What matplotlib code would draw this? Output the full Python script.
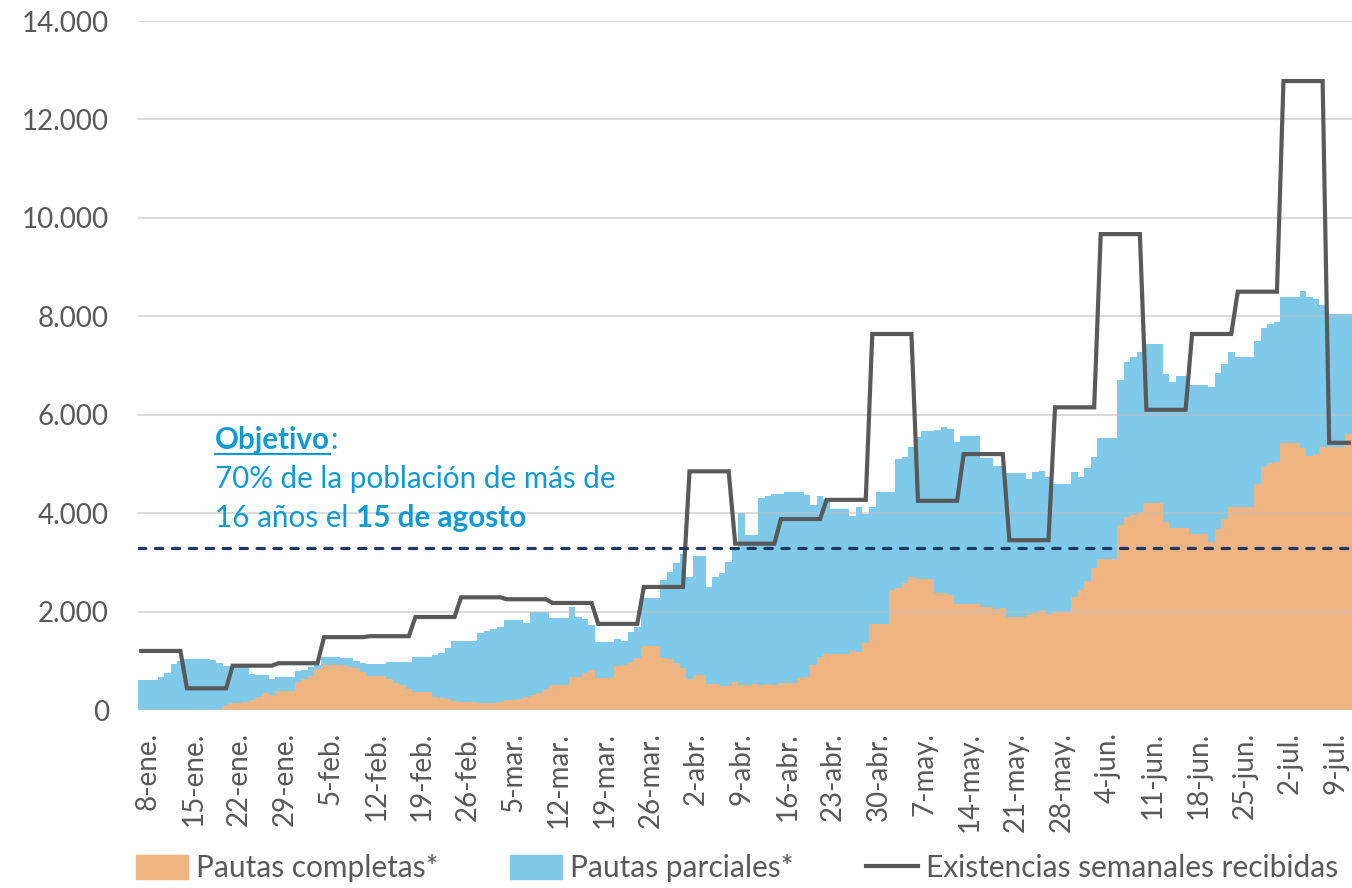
import numpy as np
import matplotlib
matplotlib.use("Agg")
import matplotlib.pyplot as plt
from matplotlib.lines import Line2D
from matplotlib.patches import Patch

plt.rcParams['font.family'] = ['Lato', 'DejaVu Sans']

# daily values, 7-ene .. 11-jul (one row per week)
completas = [
    0, 0, 0, 0, 0, 0, 0,
    0, 0, 0, 0, 0, 20, 108,
    150, 150, 165, 203, 257, 338, 305,
    393, 393, 393, 576, 623, 690, 826,
    915, 915, 915, 915, 880, 846, 779,
    690, 690, 690, 623, 555, 501, 433,
    372, 372, 372, 271, 249, 217, 176,
    163, 163, 163, 150, 136, 136, 169,
    203, 203, 217, 271, 305, 352, 430,
    508, 508, 508, 677, 664, 758, 813,
    644, 644, 644, 894, 915, 982, 1063,
    1300, 1300, 1300, 1050, 1030, 948, 847,
    623, 705, 705, 528, 535, 488, 488,
    576, 501, 501, 521, 508, 528, 508,
    542, 542, 542, 643, 664, 908, 1084,
    1131, 1131, 1131, 1131, 1199, 1185, 1368,
    1748, 1748, 1748, 2438, 2486, 2587, 2696,
    2669, 2669, 2669, 2371, 2371, 2337, 2154,
    2154, 2154, 2154, 2100, 2100, 2052, 2070,
    1884, 1884, 1884, 1938, 1965, 2032, 1950,
    1990, 1990, 1990, 2303, 2438, 2620, 2878,
    3062, 3062, 3062, 3760, 3915, 3956, 4030,
    4200, 4200, 4200, 3827, 3692, 3692, 3692,
    3570, 3570, 3570, 3421, 3672, 3875, 4131,
    4131, 4131, 4131, 4592, 4945, 5026, 5033,
    5419, 5419, 5419, 5331, 5162, 5196, 5352,
    5352, 5352, 5352, 5602,
]

# top of the stacked area (completas + parciales)
total = [
    600, 600, 600, 680, 745, 935, 1000,
    1040, 1040, 1040, 1040, 1020, 950, 900,
    900, 900, 900, 730, 705, 705, 623,
    665, 665, 665, 786, 812, 867, 915,
    1083, 1083, 1083, 1050, 1050, 1000, 962,
    928, 928, 928, 968, 968, 968, 968,
    1083, 1083, 1083, 1124, 1165, 1260, 1409,
    1409, 1409, 1409, 1571, 1600, 1646, 1680,
    1829, 1829, 1829, 1762, 1985, 1985, 2000,
    1863, 1863, 1863, 2087, 1884, 1843, 1727,
    1375, 1375, 1375, 1436, 1409, 1592, 1694,
    2270, 2270, 2270, 2640, 2810, 2980, 3170,
    2710, 3130, 3130, 2493, 2710, 2790, 3000,
    3300, 4000, 3556, 3556, 4314, 4355, 4389,
    4380, 4423, 4423, 4423, 4370, 4159, 4349,
    4288, 4078, 4078, 4078, 3950, 4119, 3976,
    4119, 4423, 4423, 4423, 5094, 5135, 5352,
    5541, 5663, 5663, 5690, 5757, 5710, 5453,
    5568, 5568, 5568, 5127, 5120, 4965, 4960,
    4810, 4810, 4810, 4688, 4830, 4863, 4729,
    4592, 4592, 4592, 4836, 4741, 4911, 5135,
    5521, 5521, 5521, 6706, 7078, 7167, 7275,
    7437, 7437, 7437, 6821, 6672, 6787, 6787,
    6597, 6597, 6597, 6570, 6842, 7031, 7275,
    7167, 7167, 7167, 7498, 7769, 7844, 7878,
    8399, 8399, 8399, 8521, 8399, 8346, 8230,
    8047, 8047, 8047, 8047,
]

# weekly deliveries (change every Thursday)
existencias_semanales = [1200, 440, 900, 950, 1480, 1500, 1890, 2290, 2250,
                         2175, 1750, 2500, 4850, 3380, 3880, 4270, 7640,
                         4250, 5200, 3450, 6150, 9670, 6100, 7640, 8500,
                         12780, 5430]

tick_labels = ['8-ene.', '15-ene.', '22-ene.', '29-ene.', '5-feb.', '12-feb.',
               '19-feb.', '26-feb.', '5-mar.', '12-mar.', '19-mar.', '26-mar.',
               '2-abr.', '9-abr.', '16-abr.', '23-abr.', '30-abr.', '7-may.',
               '14-may.', '21-may.', '28-may.', '4-jun.', '11-jun.', '18-jun.',
               '25-jun.', '2-jul.', '9-jul.']

objetivo = 3300

completas = np.array(completas, dtype=float)
total = np.array(total, dtype=float)
parciales = total - completas
n = len(completas)
assert len(total) == n
existencias = np.repeat(existencias_semanales, 7)[:n]

c_orange = '#F0B482'
c_blue = '#7FCAEA'
c_line = '#595959'
c_text = '#595959'
c_goal = '#1F3864'
c_note = '#0E9AD6'

fig = plt.figure(figsize=(13.52, 8.88), dpi=100)
ax = fig.add_axes([138 / 1352, 1 - 710 / 888, 1 - 138 / 1352, 689 / 888])

edges = np.arange(n + 1)
ax.stairs(completas, edges, baseline=0, fill=True, color=c_orange, lw=0, zorder=2)
ax.stairs(completas + parciales, edges, baseline=completas, fill=True,
          color=c_blue, lw=0, zorder=2)

x_center = np.arange(n) + 0.5
ax.plot(x_center, existencias, color=c_line, lw=3.0, zorder=4,
        solid_joinstyle='miter')
ax.axhline(objetivo, color=c_goal, lw=2.3, linestyle=(0, (2.3, 3.0)),
           dash_capstyle='round', zorder=5)

ax.set_xlim(0, n)
ax.set_ylim(0, 14000)
ax.set_yticks(np.arange(0, 14001, 2000))
ax.set_yticklabels(['0' if v == 0 else f'{v:,}'.replace(',', '.')
                    for v in range(0, 14001, 2000)])
ax.yaxis.grid(True, color='#BFBFBF', alpha=0.55, lw=1.5, zorder=3)
ax.set_axisbelow(False)
ax.set_xticks(np.arange(1, n, 7)[:len(tick_labels)] + 0.5)
ax.set_xticklabels(tick_labels, rotation=90, va='top', ha='center')
ax.tick_params(axis='both', length=0, labelsize=20, colors=c_text)
ax.tick_params(axis='y', pad=21)
ax.tick_params(axis='x', pad=16)
for s in ax.spines.values():
    s.set_visible(False)

# annotation for the target
fs_note = 21.3
t0 = fig.text(215 / 1352, 1 - 449 / 888, 'Objetivo', color=c_note,
              fontsize=fs_note, fontweight='bold', va='baseline')
fig.text(215 / 1352, 1 - 488 / 888, '70% de la población de más de',
         color=c_note, fontsize=fs_note, va='baseline')
t2 = fig.text(215 / 1352, 1 - 527 / 888, '16 años el ', color=c_note,
              fontsize=fs_note, va='baseline')
ax.annotate(':', xy=(1, 0), xycoords=t0, va='bottom', ha='left',
            color=c_note, fontsize=fs_note)
ax.annotate('15 de agosto', xy=(1, 0), xycoords=t2, va='bottom', ha='left',
            color=c_note, fontsize=fs_note, fontweight='bold')
fig.canvas.draw()
bb = t0.get_window_extent()
uy = (1 - 454 / 888) * fig.bbox.height
fig.add_artist(Line2D([bb.x0, bb.x1], [uy, uy], color=c_note, lw=1.6,
                      transform=None))

handles = [Patch(color=c_orange), Patch(color=c_blue),
           Line2D([], [], color=c_line, lw=3.0)]
labels = ['Pautas completas*', 'Pautas parciales*',
          'Existencias semanales recibidas']
fig.legend(handles, labels, loc='center', bbox_to_anchor=(0.545, 0.022),
           ncol=3, frameon=False, fontsize=21.5, labelcolor=c_text,
           handlelength=1.75, handleheight=0.85, handletextpad=0.27,
           columnspacing=2.4)

fig.savefig('out.png', dpi=100)
plt.close(fig)
